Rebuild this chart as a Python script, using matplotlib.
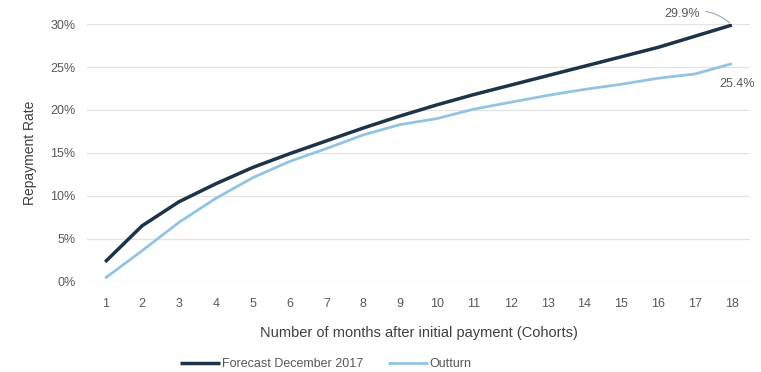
import numpy as np
import matplotlib.pyplot as plt
from matplotlib.ticker import PercentFormatter

# months after initial payment
months = list(range(1, 19))

# repayment rates (%)
forecast = [2.3, 6.5, 9.3, 11.4, 13.3, 14.9, 16.4, 17.9, 19.3,
            20.6, 21.8, 22.9, 24.0, 25.1, 26.2, 27.3, 28.6, 29.9]
outturn = [0.4, 3.6, 6.9, 9.7, 12.1, 14.0, 15.5, 17.1, 18.3,
           19.0, 20.1, 20.9, 21.7, 22.4, 23.0, 23.7, 24.2, 25.4]

plt.rcParams['font.family'] = ['Liberation Sans', 'DejaVu Sans']
text_col = '#595959'

fig = plt.figure(figsize=(7.61, 3.72), dpi=100)
ax = fig.add_axes([0.114, 0.243, 0.872, 0.692])

ax.plot(months, forecast, color='#1d3347', lw=2.5, label='Forecast December 2017',
        solid_capstyle='butt')
ax.plot(months, outturn, color='#93c3e3', lw=2.0, label='Outturn',
        solid_capstyle='butt')

ax.set_xlim(0.5, 18.5)
ax.set_ylim(0, 30)
ax.set_xticks(months)
ax.set_yticks(np.arange(0, 31, 5))
ax.yaxis.set_major_formatter(PercentFormatter(decimals=0))
ax.grid(axis='y', color='#e3e3e3', lw=0.9)
ax.set_axisbelow(True)
for s in ax.spines.values():
    s.set_visible(False)
ax.tick_params(length=0, labelsize=9, labelcolor=text_col)
ax.tick_params(axis='x', pad=12)
ax.tick_params(axis='y', pad=8)

ax.set_ylabel('Repayment Rate', fontsize=10, color='#404040', labelpad=10)
ax.set_xlabel('Number of months after initial payment (Cohorts)', fontsize=10.5,
              color='#404040', labelpad=11)

# end-point labels
ax.annotate(f'{forecast[-1]:.1f}%', xy=(months[-1], forecast[-1]),
            xytext=(16.65, 31.2), fontsize=9, color=text_col, ha='center', va='center',
            arrowprops=dict(arrowstyle='-', color='#9aa9b8', lw=0.8,
                            connectionstyle='arc3,rad=-0.3'))
ax.text(months[-1] + 0.15, outturn[-1] - 2.4, f'{outturn[-1]:.1f}%', fontsize=9,
        color=text_col, ha='center', va='center')

leg = ax.legend(loc='upper center', bbox_to_anchor=(0.36, -0.255), ncol=2, frameon=False,
                fontsize=9, handlelength=3.2, handletextpad=0.1, columnspacing=2.0)
for t in leg.get_texts():
    t.set_color(text_col)

fig.savefig('out.png', dpi=100)
